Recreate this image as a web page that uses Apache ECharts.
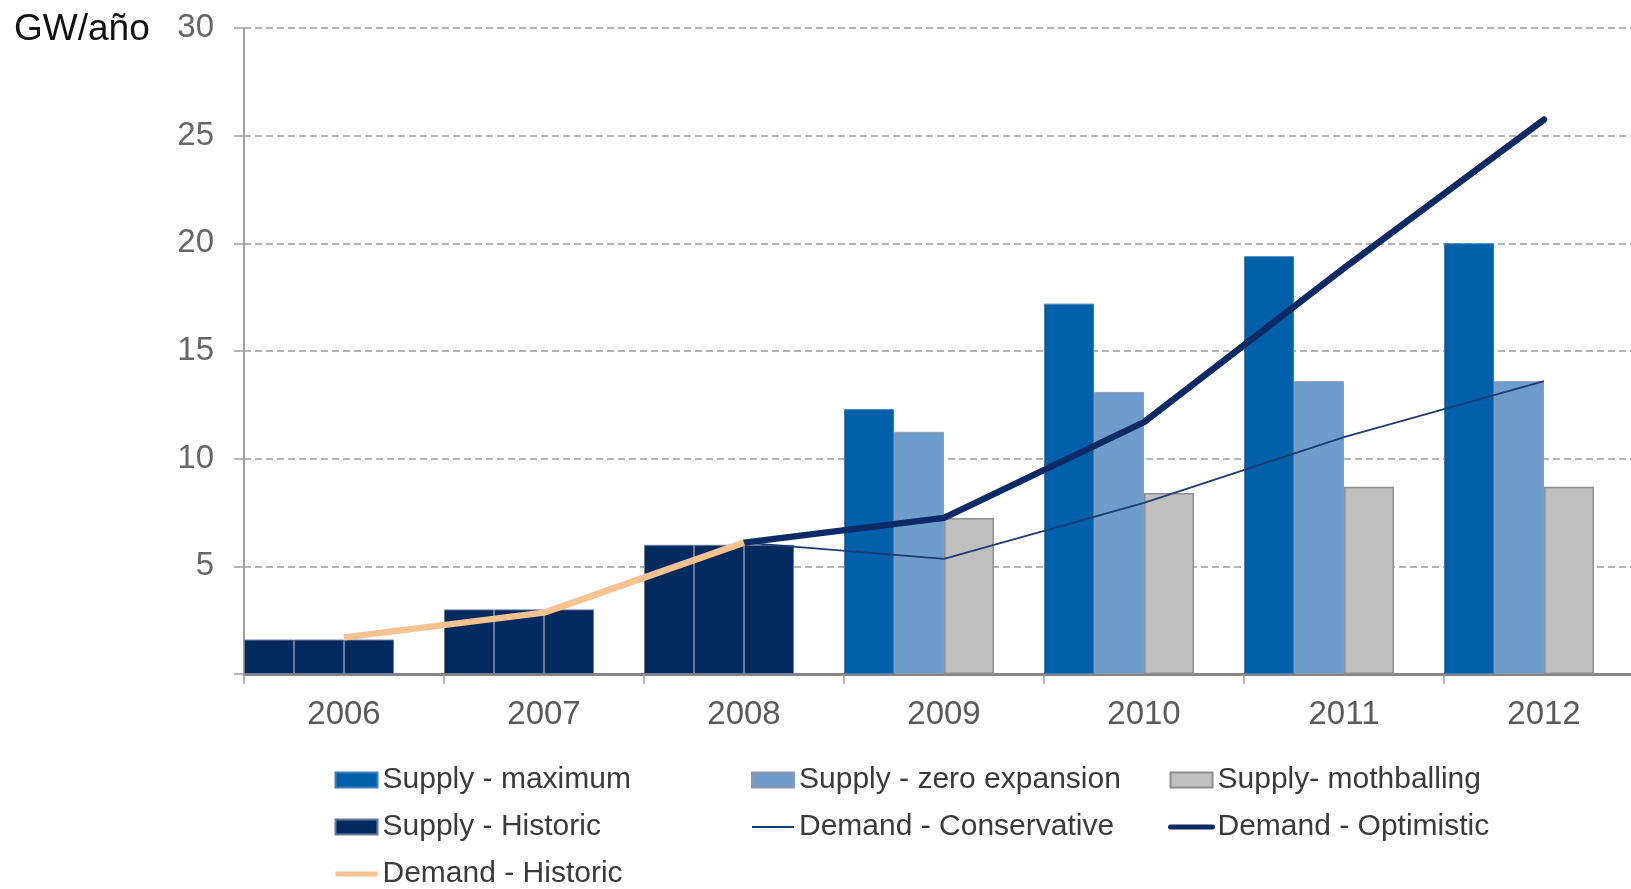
<!DOCTYPE html>
<html>
<head>
<meta charset="utf-8">
<script src="https://cdn.jsdelivr.net/npm/echarts@6/dist/echarts.min.js"></script>
<style>
  html, body { margin: 0; padding: 0; background: #ffffff; overflow: hidden; }
  #chart { width: 1631px; height: 889px; }
</style>
</head>
<body>
<div id="chart"></div>
<script>
// ---- Data (GW/año) ----
const years = ['2006', '2007', '2008', '2009', '2010', '2011', '2012'];
const supplyMaximum = [null, null, null, 12.3, 17.2, 19.4, 20.0];
const supplyZeroExpansion = [null, null, null, 11.25, 13.1, 13.6, 13.6];
const supplyMothballing = [null, null, null, 7.25, 8.4, 8.7, 8.7];
const supplyHistoric = [1.6, 3.0, 6.0, null, null, null, null];
const demandHistoric = [1.7, 2.85, 6.1, null, null, null, null];
const demandConservative = [null, null, 6.1, 5.35, 7.95, 11.0, 13.6];
const demandOptimistic = [null, null, 6.1, 7.25, 11.7, 18.85, 25.75];
const emptySlot = [null, null, null, null, null, null, null];
const yTicks = { min: 0, max: 30, interval: 5 };

const FONT = "'Liberation Sans', Arial, sans-serif";
const C_MAX = '#0060a9';
const C_ZERO = '#6e9dcc';
const C_MOTH = '#c0c0c0';
const C_HIST = '#012a5e';
const C_OPT = '#0c2b66';
const C_CONS = '#1d3c72';
const C_DHIST = '#f6c28f';

const histStyle = { color: C_HIST, borderColor: '#6a7a98', borderWidth: 1 };

const chart = echarts.init(document.getElementById('chart'), null, { renderer: 'canvas' });

const legendCommon = {
  orient: 'vertical',
  itemWidth: 42,
  itemHeight: 15,
  itemGap: 17,
  padding: 0,
  height: 300,
  textStyle: { fontSize: 30, color: '#3a3a3a', fontFamily: FONT, lineHeight: 30 },
  selectedMode: true
};

chart.setOption({
  backgroundColor: '#ffffff',
  animation: false,
  grid: { left: 244, width: 1400, top: 28, bottom: 215, containLabel: false, outerBoundsMode: 'none' },
  graphic: [{
    type: 'text', left: 14, top: 11,
    style: { text: 'GW/año', fontSize: 37, fill: '#111111', fontFamily: FONT }
  }],
  legend: [
    Object.assign({}, legendCommon, {
      left: 333, top: 765,
      data: [
        { name: 'Supply - maximum', icon: 'rect' },
        { name: 'Supply - Historic', icon: 'rect' },
        { name: 'Demand - Historic', itemStyle: { opacity: 0 }, lineStyle: { width: 5 } }
      ]
    }),
    Object.assign({}, legendCommon, {
      left: 751, top: 765,
      data: [
        { name: 'Supply - zero expansion', icon: 'rect' },
        { name: 'Demand - Conservative', itemStyle: { opacity: 0 }, lineStyle: { width: 2 } }
      ]
    }),
    Object.assign({}, legendCommon, {
      left: 1168, top: 765,
      data: [
        { name: 'Supply- mothballing', icon: 'rect' },
        { name: 'Demand - Optimistic', itemStyle: { opacity: 0 }, lineStyle: { width: 5, cap: 'round' } }
      ]
    })
  ],
  xAxis: {
    type: 'category',
    data: years,
    boundaryGap: true,
    axisLine: { lineStyle: { color: '#858585', width: 3 } },
    axisTick: { show: true, length: 10, lineStyle: { color: '#9a9a9a', width: 1.5 } },
    axisLabel: { fontSize: 33, color: '#5a5a5a', fontFamily: FONT, margin: 24 },
    splitLine: { show: false }
  },
  yAxis: {
    type: 'value',
    min: yTicks.min, max: yTicks.max, interval: yTicks.interval,
    axisLine: { show: true, lineStyle: { color: '#a0a0a0', width: 2 } },
    axisTick: { show: true, length: 10, lineStyle: { color: '#a0a0a0', width: 1.5 } },
    axisLabel: {
      fontSize: 33, color: '#666666', fontFamily: FONT, margin: 30,
      formatter: v => (v === 0 ? '' : String(v))
    },
    splitLine: { show: true, lineStyle: { color: '#9c9c9c', width: 1.5, type: [7, 4] } }
  },
  series: [
    { name: 'Supply - maximum', type: 'bar', stack: 's1', data: supplyMaximum,
      barGap: '0%', barCategoryGap: '0%',
      itemStyle: { color: C_MAX, borderColor: '#3f7db9', borderWidth: 1 } },
    { name: 'Supply - zero expansion', type: 'bar', stack: 's2', data: supplyZeroExpansion,
      itemStyle: { color: C_ZERO, borderColor: '#8e9aab', borderWidth: 1 } },
    { name: 'Supply- mothballing', type: 'bar', stack: 's3', data: supplyMothballing,
      itemStyle: { color: C_MOTH, borderColor: '#8e8e8e', borderWidth: 1.5 } },
    { name: 'slot', type: 'bar', stack: 's4', data: emptySlot, silent: true,
      itemStyle: { color: 'transparent' } },
    { name: 'Supply - Historic', type: 'bar', stack: 's1', data: supplyHistoric, itemStyle: histStyle },
    { name: 'Supply - Historic', type: 'bar', stack: 's2', data: supplyHistoric, itemStyle: histStyle },
    { name: 'Supply - Historic', type: 'bar', stack: 's3', data: supplyHistoric, itemStyle: histStyle },
    { name: 'Demand - Conservative', type: 'line', data: demandConservative, symbol: 'none',
      z: 5, color: C_CONS, lineStyle: { color: C_CONS, width: 1.8 } },
    { name: 'Demand - Optimistic', type: 'line', data: demandOptimistic, symbol: 'none',
      z: 6, color: C_OPT, lineStyle: { color: C_OPT, width: 6.5, cap: 'round', join: 'round' } },
    { name: 'Demand - Historic', type: 'line', data: demandHistoric, symbol: 'none',
      z: 7, color: C_DHIST, lineStyle: { color: C_DHIST, width: 6.5, cap: 'butt', join: 'round' } }
  ]
});
</script>
</body>
</html>
